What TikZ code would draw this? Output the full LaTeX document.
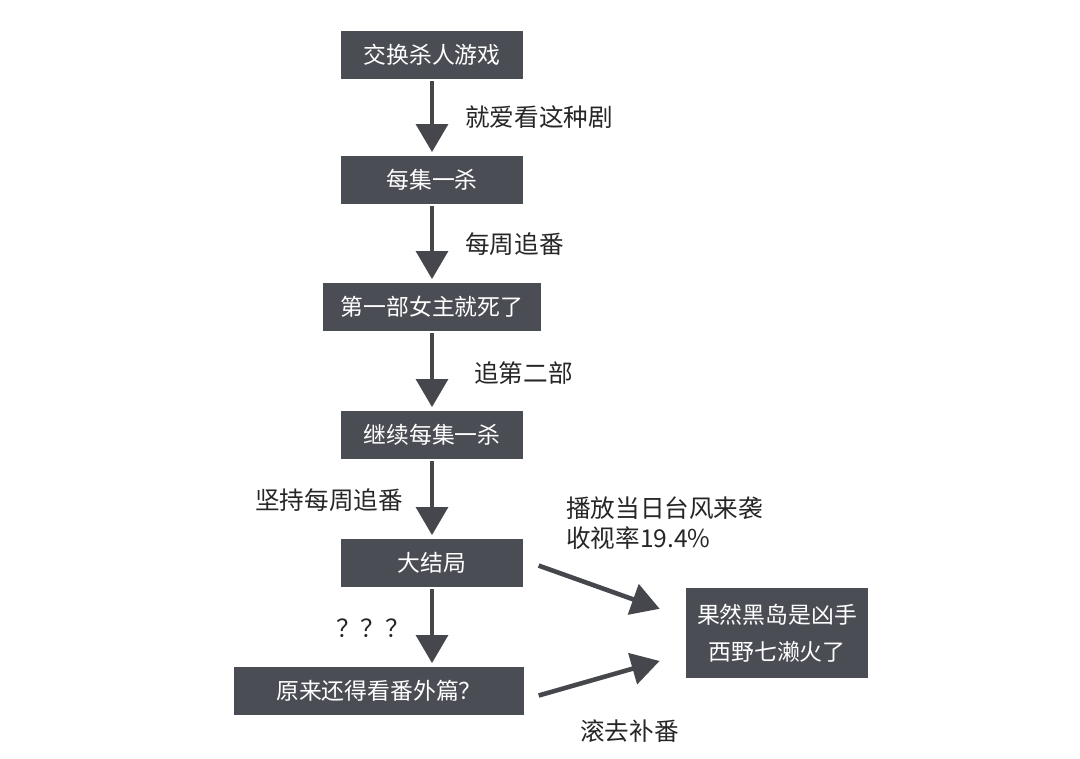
\documentclass[tikz,border=0pt]{standalone}
\usepackage{fontspec}
\setmainfont{Noto Sans CJK SC}
\usetikzlibrary{arrows.meta,positioning}
\definecolor{boxgray}{HTML}{4A4D54}
\definecolor{inkgray}{HTML}{45474D}
\tikzset{>=stealth}
\tikzset{
  stagebox/.style={fill=boxgray, text=white, minimum height=0.96cm,
    minimum width=3.66cm, inner sep=0pt, font=\fontsize{13}{15}\selectfont},
  note/.style={text=black!85, inner sep=0pt, anchor=west,
    font=\fontsize{14}{17}\selectfont},
  sketcharrow/.style={draw=inkgray, line width=2.6pt,
    -{Triangle[width=18pt,length=16pt]}, shorten <=1pt, shorten >=2pt}
}

\begin{document}
\begin{tikzpicture}[x=0.02cm,y=-0.02cm]
  \fill[white] (0,0) rectangle (1080,759);
  \useasboundingbox (0,0) rectangle (1080,759);

  % main chain
  \node[stagebox] (swap) at (432,55) {交换杀人游戏};
  \node[stagebox] (each) at (432,180) {每集一杀};
  \node[stagebox, minimum width=4.38cm] (first) at (432,307) {第一部女主就死了};
  \node[stagebox] (more) at (432,435) {继续每集一杀};
  \node[stagebox] (finale) at (432,563) {大结局};
  \node[stagebox, minimum width=5.8cm] (extra) at (379,691) {原来还得看番外篇？};
  \node[stagebox, minimum width=3.64cm, minimum height=1.82cm, align=center,
    font=\fontsize{13}{21}\selectfont] (killer) at (777,633) {果然黑岛是凶手\\西野七濑火了};

  \draw[sketcharrow] (swap) -- (each);
  \draw[sketcharrow] (each) -- (first);
  \draw[sketcharrow] (first) -- (more);
  \draw[sketcharrow] (more) -- (finale);
  \draw[sketcharrow] (finale.south) -- (finale.south |- extra.north);

  % side arrows
  \coordinate (fromfinale) at (537,565);
  \coordinate (tofinale) at (663,610);
  \coordinate (fromextra) at (537,696);
  \coordinate (toextra) at (663,660);
  \draw[sketcharrow] (fromfinale) -- (tofinale);
  \draw[sketcharrow] (fromextra) -- (toextra);

  % labels
  \node[note] (l1) at (465,117) {就爱看这种剧};
  \node[note] (l2) at (465,244) {每周追番};
  \node[note] (l3) at (474,373) {追第二部};
  \node[note] (l4) at (255,500) {坚持每周追番};
  \node[note, align=left] (l5) at (566,523) {播放当日台风来袭\\收视率19.4\%};
  \node[note] (l6) at (336,628) {？？？};
  \node[note] (l7) at (580,731) {滚去补番};
\end{tikzpicture}
\end{document}
